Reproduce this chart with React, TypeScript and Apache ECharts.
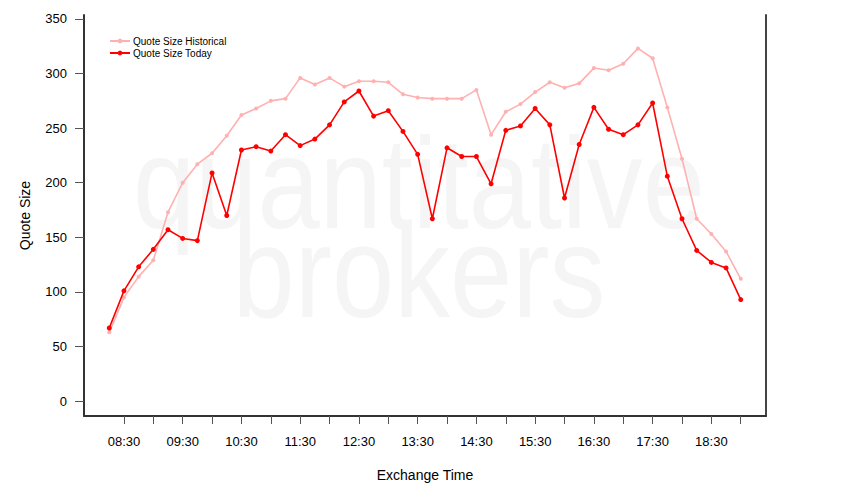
import React, { useEffect, useRef } from "react";
import * as echarts from "echarts";

const times: string[] = [
  "08:15","08:30","08:45","09:00","09:15","09:30","09:45","10:00","10:15","10:30","10:45",
  "11:00","11:15","11:30","11:45","12:00","12:15","12:30","12:45","13:00","13:15","13:30",
  "13:45","14:00","14:15","14:30","14:45","15:00","15:15","15:30","15:45","16:00","16:15",
  "16:30","16:45","17:00","17:15","17:30","17:45","18:00","18:15","18:30","18:45","19:00",
];

const historical: number[] = [
  63, 95, 114, 129, 173, 200, 217, 227, 243, 262, 268, 275, 277, 296, 290, 296, 288, 293, 293, 292,
  281, 278, 277, 277, 277, 285, 244, 265, 272, 283, 292, 287, 291, 305, 303, 309, 323, 314, 269,
  222, 167, 153, 137, 112,
];

const today: number[] = [
  67, 101, 123, 139, 157, 149, 147, 209, 170, 230, 233, 229, 244, 234, 240, 253, 274, 284, 261, 266,
  247, 226, 167, 232, 224, 224, 199, 248, 252, 268, 253, 186, 235, 269, 249, 244, 253, 273, 206,
  167, 138, 127, 122, 93,
];

const yTicks: number[] = [0, 50, 100, 150, 200, 250, 300, 350];
const xTickTimes: string[] = [
  "08:30","09:00","09:30","10:00","10:30","11:00","11:30","12:00","12:30","13:00","13:30",
  "14:00","14:30","15:00","15:30","16:00","16:30","17:00","17:30","18:00","18:30","19:00",
];
const xLabelTimes: string[] = [
  "08:30","09:30","10:30","11:30","12:30","13:30","14:30","15:30","16:30","17:30","18:30",
];

const toMin = (t: string) => {
  const [h, m] = t.split(":").map(Number);
  return h * 60 + m;
};
const fmt = (v: number) => {
  const h = Math.floor(v / 60);
  const m = Math.round(v - h * 60);
  return String(h).padStart(2, "0") + ":" + String(m).padStart(2, "0");
};

const FONT = "Liberation Sans";

export default function App() {
  const ref = useRef<HTMLDivElement>(null);
  useEffect(() => {
    if (!ref.current) return;
    const chart = echarts.init(ref.current, undefined, { renderer: "svg" });
    const xs = times.map(toMin);
    const span = xs[xs.length - 1] - xs[0];
    const xMin = xs[0] - span * 0.04;
    const xMax = xs[xs.length - 1] + span * 0.04;
    const yMin = -340 * 0.04;
    const yMax = 340 * 1.04;
    chart.setOption({
      animation: false,
      textStyle: { fontFamily: FONT },
      graphic: [
        {
          type: "text",
          x: 419,
          y: 183,
          scaleX: 0.86,
          z: 0,
          silent: true,
          style: {
            text: "quantitative",
            x: 0,
            y: 0,
            fontSize: 130,
            fontFamily: FONT,
            fill: "#f5f5f5",
            textAlign: "center",
            textVerticalAlign: "middle",
          },
        },
        {
          type: "text",
          x: 419,
          y: 272,
          scaleX: 0.86,
          z: 0,
          silent: true,
          style: {
            text: "brokers",
            x: 0,
            y: 0,
            fontSize: 130,
            fontFamily: FONT,
            fill: "#f5f5f5",
            textAlign: "center",
            textVerticalAlign: "middle",
          },
        },
      ],
      legend: {
        orient: "vertical",
        left: 104,
        top: 31,
        itemWidth: 20,
        itemHeight: 6,
        itemGap: 2,
        textStyle: { fontSize: 10, fontFamily: FONT, color: "#000", padding: [0, 0, 0, -2] },
        data: ["Quote Size Historical", "Quote Size Today"],
      },
      grid: { left: 84, right: 84, top: 15, bottom: 84 },
      xAxis: {
        type: "value",
        min: xMin,
        max: xMax,
        name: "Exchange Time",
        nameLocation: "middle",
        nameGap: 52,
        nameTextStyle: { fontSize: 14, color: "#000", fontFamily: FONT },
        axisLine: { show: true, onZero: false, lineStyle: { color: "#333", width: 2 } },
        axisTick: {
          show: true,
          length: 8,
          customValues: xTickTimes.map(toMin),
          lineStyle: { color: "#555", width: 1 },
        },
        axisLabel: {
          customValues: xLabelTimes.map(toMin),
          formatter: (v: number) => fmt(v),
          fontSize: 13,
          color: "#000",
          margin: 19,
          fontFamily: FONT,
        },
        splitLine: { show: false },
      },
      yAxis: [
        {
          type: "value",
          min: yMin,
          max: yMax,
          name: "Quote Size",
          nameLocation: "middle",
          nameGap: 52,
          nameTextStyle: { fontSize: 14, color: "#000", fontFamily: FONT },
          axisLine: { show: true, onZero: false, lineStyle: { color: "#333", width: 2 } },
          axisTick: {
            show: true,
            length: 9,
            customValues: yTicks,
            lineStyle: { color: "#555", width: 1 },
          },
          axisLabel: {
            customValues: yTicks,
            fontSize: 13,
            color: "#000",
            margin: 17,
            fontFamily: FONT,
          },
          splitLine: { show: false },
        },
        {
          type: "value",
          position: "right",
          min: yMin,
          max: yMax,
          axisLine: { show: true, onZero: false, lineStyle: { color: "#444", width: 2 } },
          axisTick: { show: false },
          axisLabel: { show: false },
          splitLine: { show: false },
        },
      ],
      series: [
        {
          name: "Quote Size Historical",
          type: "line",
          z: 3,
          data: xs.map((x, i) => [x, historical[i]]),
          symbol: "circle",
          symbolSize: 4,
          lineStyle: { color: "#ffb0b0", width: 1.6 },
          itemStyle: { color: "#ffb0b0" },
        },
        {
          name: "Quote Size Today",
          type: "line",
          z: 4,
          data: xs.map((x, i) => [x, today[i]]),
          symbol: "circle",
          symbolSize: 5,
          lineStyle: { color: "#ff0000", width: 1.6 },
          itemStyle: { color: "#ff0000" },
        },
      ],
    });
    return () => chart.dispose();
  }, []);
  return <div ref={ref} style={{ width: 850, height: 500, position: "absolute", left: 0, top: 0 }} />;
}
